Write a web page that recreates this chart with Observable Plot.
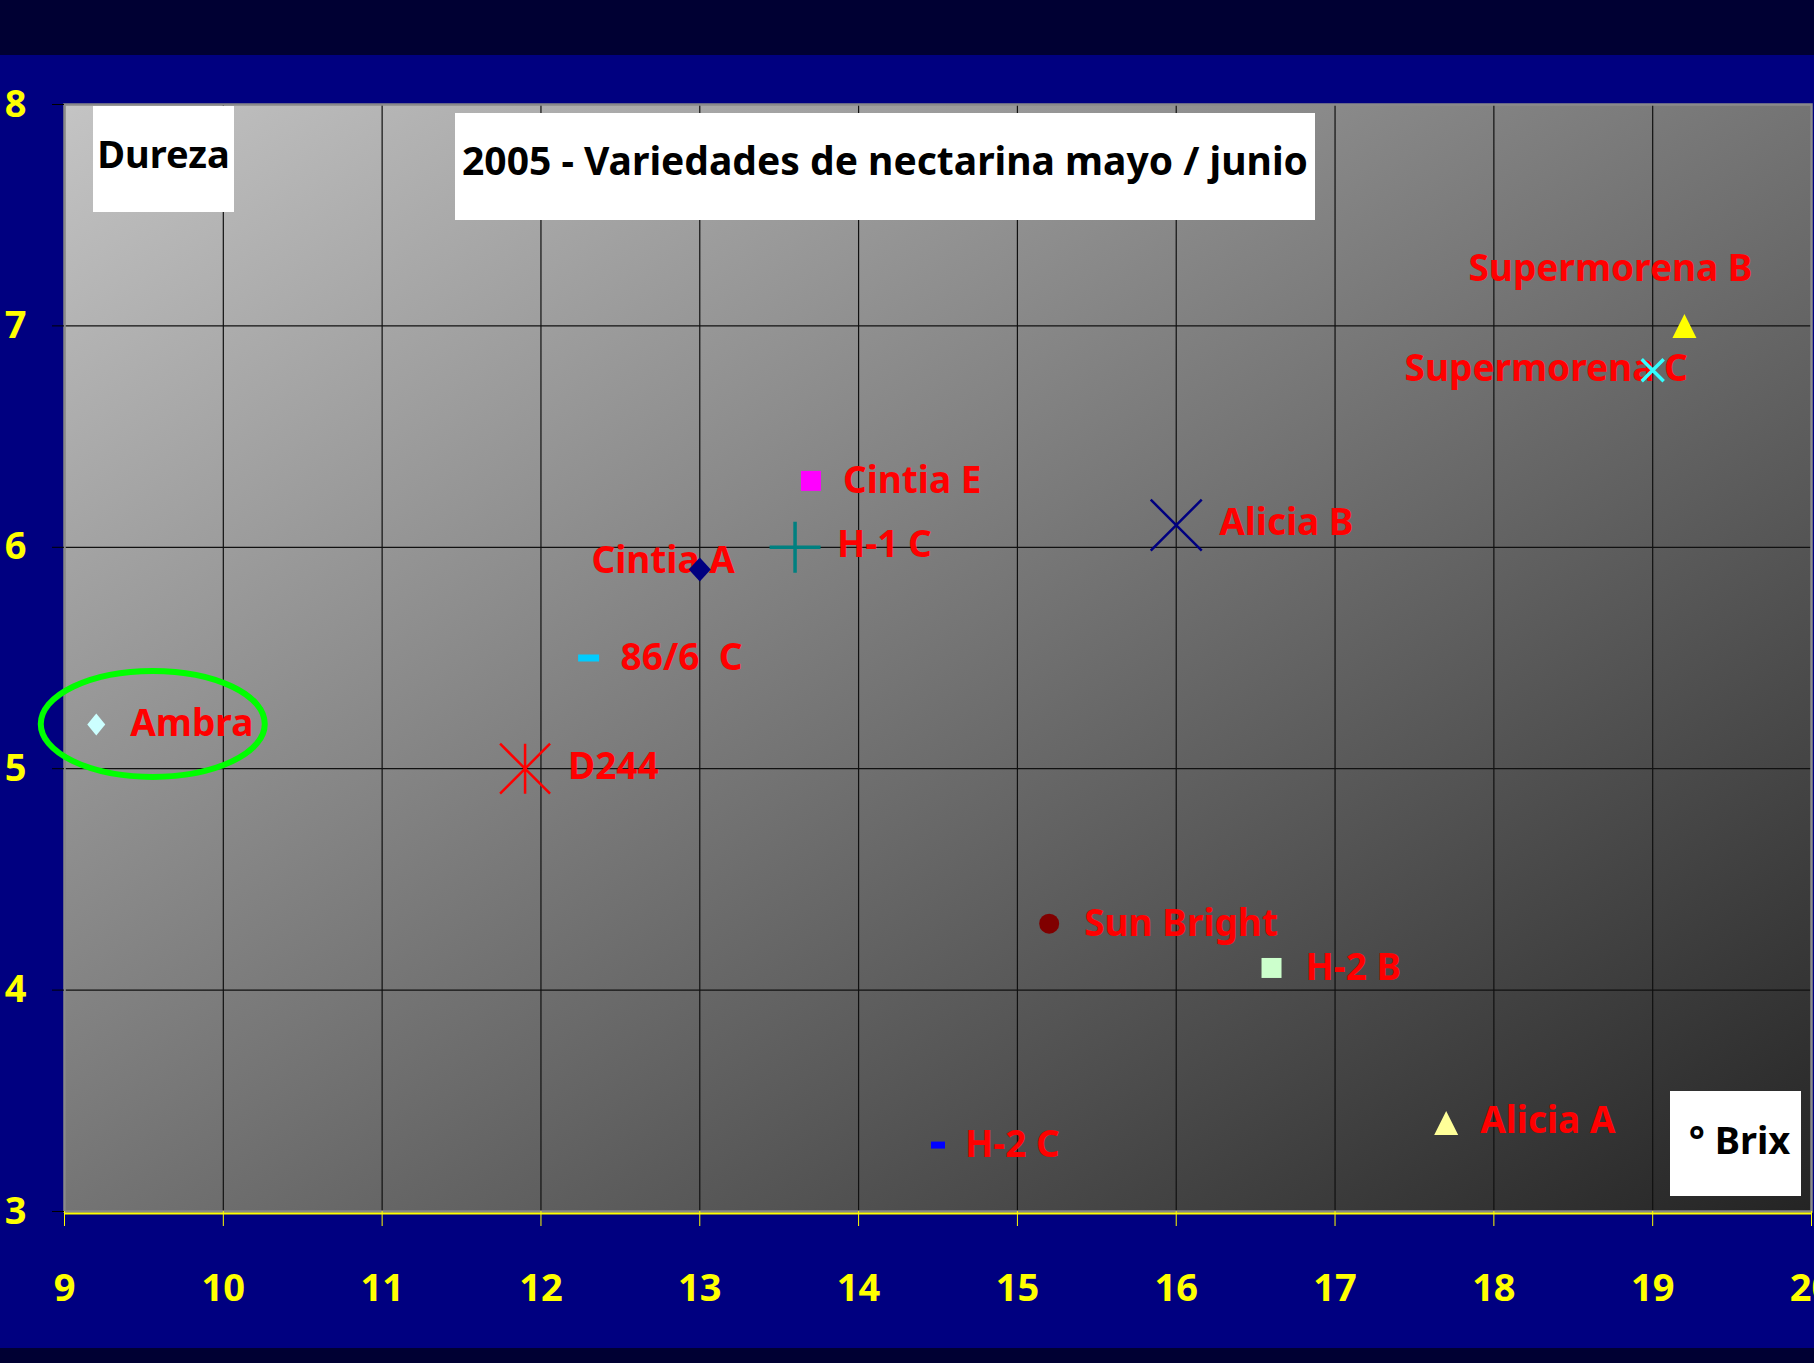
<!DOCTYPE html>
<html><head><meta charset="utf-8">
<script src="https://cdn.jsdelivr.net/npm/d3@7"></script>
<script src="https://cdn.jsdelivr.net/npm/@observablehq/plot@0.6"></script>
<style>
html,body{margin:0;padding:0;background:#000080;}
#wrap{position:relative;width:1814px;height:1363px;overflow:hidden;}
.box{position:absolute;background:#fff;color:#000;font-family:"Comic Sans MS","Noto Sans",sans-serif;font-weight:bold;text-align:center;box-sizing:border-box;white-space:pre;}
svg text{white-space:pre;}
</style></head>
<body>
<div id="wrap">
<div id="chart"></div>
<div class="box" style="left:93px;top:106px;width:141px;height:106px;font-size:38px;line-height:38px;padding-top:28px">Dureza</div>
<div class="box" style="left:455px;top:113px;width:860px;height:107px;font-size:39px;line-height:39px;padding-top:27px">2005 - Variedades de nectarina mayo / junio</div>
<div class="box" style="left:1670px;top:1091px;width:131px;height:105px;font-size:38px;line-height:38px;padding-top:29px;padding-left:8px">° Brix</div>
</div>
<script>
// ---- data ----
const names  = ["Ambra", "D244", "86/6  C", "Cintia A", "Cintia E", "H-1 C", "Alicia B", "Supermorena B", "Supermorena C", "Sun Bright", "H-2 B", "H-2 C", "Alicia A"];
const brix   = [9.2, 11.9, 12.3, 13.0, 13.7, 13.6, 16.0, 19.2, 19.0, 15.2, 16.6, 14.5, 17.7];
const dureza = [5.2, 5.0, 5.5, 5.9, 6.3, 6.0, 6.1, 7.0, 6.8, 4.3, 4.1, 3.3, 3.4];
const xTicks = [9, 10, 11, 12, 13, 14, 15, 16, 17, 18, 19, 20];
const yTicks = [3, 4, 5, 6, 7, 8];

// ---- symbols (styles) ----
const diamond  = (rx, ry) => ({draw(c){c.moveTo(0,-ry);c.lineTo(rx,0);c.lineTo(0,ry);c.lineTo(-rx,0);c.closePath();}});
const square   = (r) => ({draw(c){c.rect(-r,-r,2*r,2*r);}});
const triangle = (r) => ({draw(c){c.moveTo(0,-r);c.lineTo(r,r);c.lineTo(-r,r);c.closePath();}});
const dash     = (rx, ry) => ({draw(c){c.rect(-rx,-ry,2*rx,2*ry);}});
const cross    = (r) => ({draw(c){c.moveTo(-r,0);c.lineTo(r,0);c.moveTo(0,-r);c.lineTo(0,r);}});
const times    = (r) => ({draw(c){c.moveTo(-r,-r);c.lineTo(r,r);c.moveTo(-r,r);c.lineTo(r,-r);}});
const star     = (r) => ({draw(c){c.moveTo(0,-r);c.lineTo(0,r);c.moveTo(-r,-r);c.lineTo(r,r);c.moveTo(-r,r);c.lineTo(r,-r);}});
const circle   = (r) => ({draw(c){c.moveTo(r,0);c.arc(0,0,r,0,2*Math.PI);}});

const markerStyle = {
  "Ambra":         {symbol: diamond(9, 11),  fill: "#ccffff"},
  "D244":          {symbol: star(25),        stroke: "#ff0000", strokeWidth: 2.5},
  "86/6  C":       {symbol: dash(10.5, 3.5), fill: "#00ccff"},
  "Cintia A":      {symbol: diamond(11, 12), fill: "#000080"},
  "Cintia E":      {symbol: square(10),      fill: "#ff00ff"},
  "H-1 C":         {symbol: cross(25.5),     stroke: "#008080", strokeWidth: 3.5},
  "Alicia B":      {symbol: times(25.5),     stroke: "#000080", strokeWidth: 2.5},
  "Supermorena B": {symbol: triangle(12),    fill: "#ffff00"},
  "Supermorena C": {symbol: times(11),       stroke: "#33ffff", strokeWidth: 3.5},
  "Sun Bright":    {symbol: circle(10),      fill: "#800000"},
  "H-2 B":         {symbol: square(10),      fill: "#ccffcc"},
  "H-2 C":         {symbol: dash(7, 3.5),    fill: "#0000ff"},
  "Alicia A":      {symbol: triangle(12),    fill: "#ffff99"}
};
const labelStyle = {
  "Ambra":         {dx: 34, dy: 0},
  "D244":          {dx: 43, dy: -2},
  "86/6  C":       {dx: 32, dy: 0},
  "Cintia A":      {dx: 35, dy: -8, textAnchor: "end"},
  "Cintia E":      {dx: 32, dy: 0},
  "H-1 C":         {dx: 42, dy: -2},
  "Alicia B":      {dx: 43, dy: -2},
  "Supermorena B": {dx: -74, dy: -57, textAnchor: "middle"},
  "Supermorena C": {dx: 35, dy: -1, textAnchor: "end"},
  "Sun Bright":    {dx: 35, dy: 0},
  "H-2 B":         {dx: 34, dy: 0},
  "H-2 C":         {dx: 27, dy: 0},
  "Alicia A":      {dx: 34, dy: -2}
};
const FONT = "Comic Sans MS, Noto Sans, sans-serif";

function panel(index, scales, values, d) {
  const g = d3.create("svg:g");
  const grad = g.append("defs").append("linearGradient").attr("id", "panelGrad")
    .attr("x1", 0).attr("y1", 0).attr("x2", 1).attr("y2", 1);
  grad.append("stop").attr("offset", 0).attr("stop-color", "#c4c4c4");
  grad.append("stop").attr("offset", 1).attr("stop-color", "#242424");
  g.append("rect").attr("x", d.marginLeft).attr("y", d.marginTop)
    .attr("width", d.width - d.marginLeft - d.marginRight)
    .attr("height", d.height - d.marginTop - d.marginBottom)
    .attr("fill", "url(#panelGrad)");
  return g.node();
}
function highlight(index, scales) {
  const i = names.indexOf("Ambra");
  const g = d3.create("svg:g");
  g.append("ellipse").attr("cx", scales.x(brix[i]) + 57).attr("cy", scales.y(dureza[i]))
    .attr("rx", 112).attr("ry", 53).attr("fill", "none")
    .attr("stroke", "#00ff00").attr("stroke-width", 6);
  return g.node();
}

const labelMarks = names.map((n, i) => {
  const l = labelStyle[n];
  return Plot.text([i], {x: j => brix[j], y: j => dureza[j], text: j => names[j],
    dx: l.dx, dy: l.dy, textAnchor: l.textAnchor || "start",
    fill: "#ff0000", fontSize: 37, fontWeight: "bold", fontFamily: FONT});
});
const dotMarks = names.map((n, i) => {
  const m = markerStyle[n];
  return Plot.dot([i], {x: j => brix[j], y: j => dureza[j], symbol: m.symbol, r: 5,
    fill: m.fill || "none", stroke: m.stroke || "none", strokeWidth: m.strokeWidth || 0});
});

const chart = Plot.plot({
  width: 1814, height: 1363,
  marginLeft: 64, marginRight: 3, marginTop: 104, marginBottom: 152,
  x: {domain: [xTicks[0], xTicks[xTicks.length - 1]], axis: null},
  y: {domain: [yTicks[0], yTicks[yTicks.length - 1]], axis: null},
  style: {
    background: "linear-gradient(to bottom, #000033 0px, #000033 55px, #000080 55px, #000080 1348px, #000033 1348px)",
    fontFamily: FONT
  },
  marks: [
    panel,
    Plot.gridX(xTicks, {stroke: "#111", strokeOpacity: 1, strokeWidth: 1.2}),
    Plot.gridY(yTicks, {stroke: "#111", strokeOpacity: 1, strokeWidth: 1.2}),
    Plot.frame({stroke: "#8a8a8a", strokeWidth: 2.5}),
    Plot.ruleY([yTicks[0]], {stroke: "#ffff00", strokeWidth: 2, dy: 2}),
    Plot.axisX(xTicks, {anchor: "bottom", tickSize: 15, tickPadding: 48, tickFormat: d => String(d),
      stroke: "#ffff00", fill: "#ffff00", fontSize: 38, fontWeight: "bold", fontFamily: FONT}),
    Plot.axisY(yTicks, {anchor: "left", tickSize: 12, tickPadding: 26, tickFormat: d => String(d),
      stroke: "#000", fill: "#ffff00", fontSize: 38, fontWeight: "bold", fontFamily: FONT}),
    highlight,
    ...labelMarks,
    ...dotMarks
  ]
});
document.getElementById("chart").appendChild(chart);
</script>
</body></html>
